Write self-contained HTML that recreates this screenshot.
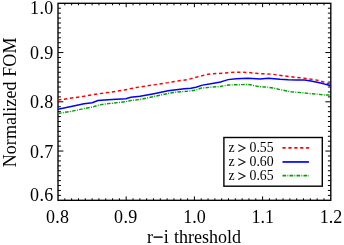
<!DOCTYPE html>
<html><head><meta charset="utf-8"><style>
html,body{margin:0;padding:0;background:#fff;}
body{width:344px;height:245px;overflow:hidden;}
svg{display:block;will-change:transform;}
text{font-family:"Liberation Serif",serif;font-size:18.0px;fill:#000;}
text.lg{font-size:13.8px;}
.gt{font-size:15px;stroke:#000;stroke-width:0.35px;}
.mn{stroke:#000;stroke-width:0.6px;}
text.yl{font-size:18px;letter-spacing:0.1px;}
text.tk{letter-spacing:0.3px;}
</style></head><body>
<svg width="344" height="245" viewBox="0 0 344 245">
<rect x="58.0" y="3.3" width="272.80" height="197.00" fill="none" stroke="#000" stroke-width="1.35"/>
<path d="M64.82,200.3 v-2.0 M64.82,3.3 v2.0 M71.64,200.3 v-2.0 M71.64,3.3 v2.0 M78.46,200.3 v-2.0 M78.46,3.3 v2.0 M85.28,200.3 v-2.0 M85.28,3.3 v2.0 M92.10,200.3 v-2.0 M92.10,3.3 v2.0 M98.92,200.3 v-2.0 M98.92,3.3 v2.0 M105.74,200.3 v-2.0 M105.74,3.3 v2.0 M112.56,200.3 v-2.0 M112.56,3.3 v2.0 M119.38,200.3 v-2.0 M119.38,3.3 v2.0 M126.20,200.3 v-3.9 M126.20,3.3 v3.9 M133.02,200.3 v-2.0 M133.02,3.3 v2.0 M139.84,200.3 v-2.0 M139.84,3.3 v2.0 M146.66,200.3 v-2.0 M146.66,3.3 v2.0 M153.48,200.3 v-2.0 M153.48,3.3 v2.0 M160.30,200.3 v-2.0 M160.30,3.3 v2.0 M167.12,200.3 v-2.0 M167.12,3.3 v2.0 M173.94,200.3 v-2.0 M173.94,3.3 v2.0 M180.76,200.3 v-2.0 M180.76,3.3 v2.0 M187.58,200.3 v-2.0 M187.58,3.3 v2.0 M194.40,200.3 v-3.9 M194.40,3.3 v3.9 M201.22,200.3 v-2.0 M201.22,3.3 v2.0 M208.04,200.3 v-2.0 M208.04,3.3 v2.0 M214.86,200.3 v-2.0 M214.86,3.3 v2.0 M221.68,200.3 v-2.0 M221.68,3.3 v2.0 M228.50,200.3 v-2.0 M228.50,3.3 v2.0 M235.32,200.3 v-2.0 M235.32,3.3 v2.0 M242.14,200.3 v-2.0 M242.14,3.3 v2.0 M248.96,200.3 v-2.0 M248.96,3.3 v2.0 M255.78,200.3 v-2.0 M255.78,3.3 v2.0 M262.60,200.3 v-3.9 M262.60,3.3 v3.9 M269.42,200.3 v-2.0 M269.42,3.3 v2.0 M276.24,200.3 v-2.0 M276.24,3.3 v2.0 M283.06,200.3 v-2.0 M283.06,3.3 v2.0 M289.88,200.3 v-2.0 M289.88,3.3 v2.0 M296.70,200.3 v-2.0 M296.70,3.3 v2.0 M303.52,200.3 v-2.0 M303.52,3.3 v2.0 M310.34,200.3 v-2.0 M310.34,3.3 v2.0 M317.16,200.3 v-2.0 M317.16,3.3 v2.0 M323.98,200.3 v-2.0 M323.98,3.3 v2.0 M58.0,195.38 h2.9 M330.8,195.38 h-2.9 M58.0,190.45 h2.9 M330.8,190.45 h-2.9 M58.0,185.53 h2.9 M330.8,185.53 h-2.9 M58.0,180.60 h2.9 M330.8,180.60 h-2.9 M58.0,175.68 h2.9 M330.8,175.68 h-2.9 M58.0,170.75 h2.9 M330.8,170.75 h-2.9 M58.0,165.83 h2.9 M330.8,165.83 h-2.9 M58.0,160.90 h2.9 M330.8,160.90 h-2.9 M58.0,155.98 h2.9 M330.8,155.98 h-2.9 M58.0,151.05 h5.4 M330.8,151.05 h-5.4 M58.0,146.12 h2.9 M330.8,146.12 h-2.9 M58.0,141.20 h2.9 M330.8,141.20 h-2.9 M58.0,136.28 h2.9 M330.8,136.28 h-2.9 M58.0,131.35 h2.9 M330.8,131.35 h-2.9 M58.0,126.43 h2.9 M330.8,126.43 h-2.9 M58.0,121.50 h2.9 M330.8,121.50 h-2.9 M58.0,116.58 h2.9 M330.8,116.58 h-2.9 M58.0,111.65 h2.9 M330.8,111.65 h-2.9 M58.0,106.73 h2.9 M330.8,106.73 h-2.9 M58.0,101.80 h5.4 M330.8,101.80 h-5.4 M58.0,96.88 h2.9 M330.8,96.88 h-2.9 M58.0,91.95 h2.9 M330.8,91.95 h-2.9 M58.0,87.03 h2.9 M330.8,87.03 h-2.9 M58.0,82.10 h2.9 M330.8,82.10 h-2.9 M58.0,77.18 h2.9 M330.8,77.18 h-2.9 M58.0,72.25 h2.9 M330.8,72.25 h-2.9 M58.0,67.33 h2.9 M330.8,67.33 h-2.9 M58.0,62.40 h2.9 M330.8,62.40 h-2.9 M58.0,57.48 h2.9 M330.8,57.48 h-2.9 M58.0,52.55 h5.4 M330.8,52.55 h-5.4 M58.0,47.62 h2.9 M330.8,47.62 h-2.9 M58.0,42.70 h2.9 M330.8,42.70 h-2.9 M58.0,37.78 h2.9 M330.8,37.78 h-2.9 M58.0,32.85 h2.9 M330.8,32.85 h-2.9 M58.0,27.93 h2.9 M330.8,27.93 h-2.9 M58.0,23.00 h2.9 M330.8,23.00 h-2.9 M58.0,18.08 h2.9 M330.8,18.08 h-2.9 M58.0,13.15 h2.9 M330.8,13.15 h-2.9 M58.0,8.23 h2.9 M330.8,8.23 h-2.9" stroke="#000" stroke-width="1.0" fill="none"/>
<polyline points="58.0,100.05 84.0,96.25 97.9,93.85 112.0,92.00 124.2,90.05 130.0,88.80 136.5,87.45 140.0,86.95 153.9,84.85 168.0,82.65 171.3,82.05 177.8,80.95 183.5,80.25 189.2,79.21 196.0,77.25 200.9,76.05 206.6,74.55 212.3,73.70 218.9,73.45 224.0,73.15 230.5,72.52 236.2,72.25 242.4,72.25 248.5,72.52 253.6,73.05 260.2,73.70 265.9,73.85 272.4,74.25 278.1,75.09 283.3,75.85 289.8,76.65 295.5,77.35 301.6,77.91 306.9,78.60 313.3,79.45 319.1,80.65 325.2,82.60 330.8,84.35" fill="none" stroke="#ff0000" stroke-width="1.45" stroke-dasharray="3.3,2.75"/>
<polyline points="58.0,109.15 72.3,106.25 84.0,103.70 92.2,102.65 97.9,100.60 104.4,100.11 112.0,99.50 125.9,98.65 130.8,97.21 140.0,96.15 153.9,93.65 168.0,90.85 176.2,89.65 184.3,88.85 190.9,88.19 196.0,87.15 202.5,85.13 212.3,83.50 220.5,82.05 224.0,80.90 228.1,79.62 236.2,78.80 242.4,78.39 247.7,78.23 252.0,78.50 260.2,78.93 268.3,78.35 274.0,78.75 280.0,79.35 288.2,79.75 296.3,79.95 304.5,80.11 308.0,80.55 310.9,81.09 315.8,81.91 320.7,82.95 325.6,84.35 330.8,85.65" fill="none" stroke="#0000ff" stroke-width="1.5"/>
<polyline points="58.0,113.45 72.3,111.15 84.0,108.55 92.2,107.15 97.9,105.25 104.4,104.05 112.0,103.25 125.9,101.70 130.8,100.45 140.0,99.50 153.9,96.55 168.0,93.45 176.2,92.11 184.3,91.45 190.9,90.85 196.0,90.05 200.9,88.15 212.3,87.05 220.5,86.55 224.0,85.70 228.9,84.95 240.3,84.65 248.2,84.45 252.2,85.15 258.0,86.45 264.5,87.05 268.0,87.15 274.2,88.31 280.7,89.75 285.6,90.75 291.3,91.85 298.2,92.35 304.7,92.95 311.2,93.75 317.3,94.15 323.9,94.95 330.8,95.05" fill="none" stroke="#00a000" stroke-width="1.45" stroke-dasharray="3.6,1.3,0.95,1.3"/>
<text x="53.5" y="14.2" text-anchor="end" class="tk">1.0</text>
<text x="53.5" y="58.8" text-anchor="end" class="tk">0.9</text>
<text x="53.5" y="108.3" text-anchor="end" class="tk">0.8</text>
<text x="53.5" y="157.9" text-anchor="end" class="tk">0.7</text>
<text x="53.5" y="200.8" text-anchor="end" class="tk">0.6</text>
<text x="57.6" y="222.7" text-anchor="middle" class="tk">0.8</text>
<text x="125.8" y="222.7" text-anchor="middle" class="tk">0.9</text>
<text x="194.6" y="222.7" text-anchor="middle">1.0</text>
<text x="262.8" y="222.7" text-anchor="middle">1.1</text>
<text x="331.0" y="222.7" text-anchor="middle">1.2</text>
<text y="242.9"><tspan x="147.0">r</tspan><tspan x="153.1" class="mn">&#8722;</tspan><tspan x="163.7">i</tspan> <tspan x="173.9">threshold</tspan></text>
<text transform="translate(16.3,102.4) rotate(-90)" text-anchor="middle" class="yl">Normalized FOM</text>
<rect x="223.9" y="137.5" width="98.40" height="48.70" fill="#fff" stroke="#000" stroke-width="1.4"/>
<text y="151.8" class="lg"><tspan x="228.6">z</tspan> <tspan x="237.7" dy="1.05" class="gt">&gt;</tspan> <tspan x="249.5" dy="-1.05">0.55</tspan></text>
<line x1="282.5" x2="308.9" y1="147.9" y2="147.9" stroke="#ff0000" stroke-width="1.7" stroke-dasharray="3.1,2.8"/>
<text y="165.7" class="lg"><tspan x="228.6">z</tspan> <tspan x="237.7" dy="1.05" class="gt">&gt;</tspan> <tspan x="249.5" dy="-1.05">0.60</tspan></text>
<line x1="282.5" x2="308.9" y1="161.95" y2="161.95" stroke="#0000ff" stroke-width="1.7"/>
<text y="179.7" class="lg"><tspan x="228.6">z</tspan> <tspan x="237.7" dy="1.05" class="gt">&gt;</tspan> <tspan x="249.5" dy="-1.05">0.65</tspan></text>
<line x1="282.5" x2="308.9" y1="175.6" y2="175.6" stroke="#00a000" stroke-width="1.7" stroke-dasharray="3.6,1.3,0.9,1.2"/>
</svg>
</body></html>
